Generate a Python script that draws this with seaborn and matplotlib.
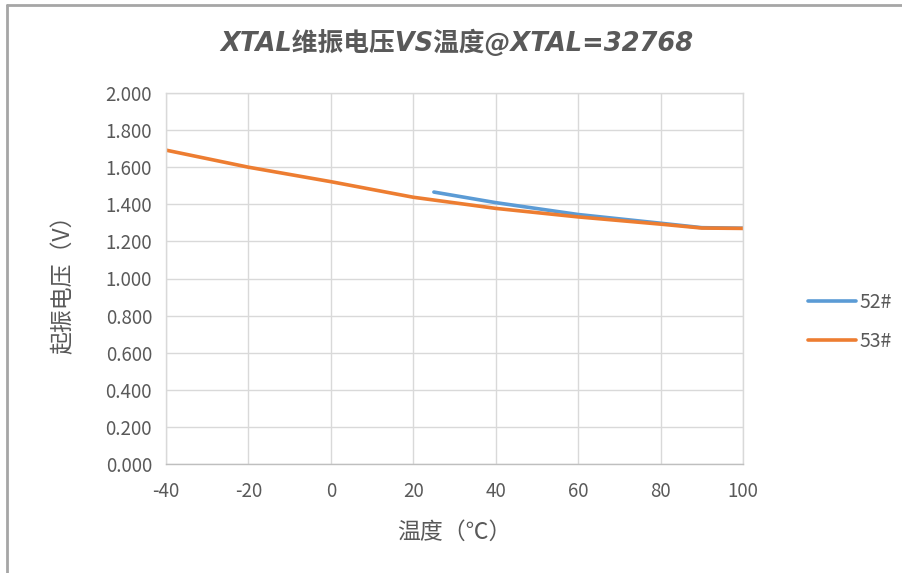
import matplotlib
matplotlib.use("Agg")
import matplotlib.pyplot as plt
import seaborn as sns
import pandas as pd
from matplotlib.lines import Line2D

# ---- data ----
temp_52 = [25, 40, 60, 80, 90, 100]
volt_52 = [1.466, 1.409, 1.345, 1.298, 1.274, 1.271]
temp_53 = [-40, -20, 0, 20, 40, 60, 80, 90, 100]
volt_53 = [1.692, 1.600, 1.522, 1.438, 1.378, 1.332, 1.293, 1.272, 1.270]
series_names = ["52#", "53#"]
series_colors = ["#5B9BD5", "#ED7D31"]
x_ticks = [-40, -20, 0, 20, 40, 60, 80, 100]
y_ticks = [0.0, 0.2, 0.4, 0.6, 0.8, 1.0, 1.2, 1.4, 1.6, 1.8, 2.0]
title = "XTAL维振电压VS温度@XTAL=32768"
x_label = "温度（℃）"
y_label = "起振电压（V）"

df = pd.concat([
    pd.DataFrame({"温度": temp_52, "电压": volt_52, "系列": series_names[0]}),
    pd.DataFrame({"温度": temp_53, "电压": volt_53, "系列": series_names[1]}),
], ignore_index=True)

sns.set_theme(style="white")
plt.rcParams["font.family"] = ["Noto Sans CJK SC", "DejaVu Sans"]
plt.rcParams["axes.unicode_minus"] = False

fig = plt.figure(figsize=(9.02, 5.73), dpi=100)
ax = fig.add_axes([166 / 902, 1 - 464 / 573, (743 - 166) / 902, (464 - 93) / 573])

sns.lineplot(data=df, x="温度", y="电压", hue="系列", palette=dict(zip(series_names, series_colors)),
             linewidth=2.6, ax=ax, legend=False, sort=True, estimator=None)

ax.set_xlim(-40, 100)
ax.set_ylim(0, 2.0)
ax.set_xticks(x_ticks)
ax.set_yticks(y_ticks)
ax.set_xticklabels([str(v) for v in x_ticks])
ax.set_yticklabels([f"{v:.3f}" for v in y_ticks])
ax.grid(True, color="#D9D9D9", linewidth=1.0)
ax.set_axisbelow(True)
for name, sp in ax.spines.items():
    sp.set_color("#D9D9D9")
    sp.set_linewidth(1.0)
ax.spines["bottom"].set_color("#BFBFBF")
ax.tick_params(axis="both", length=0, labelsize=13.5, colors="#595959")
ax.tick_params(axis="y", pad=10)
ax.tick_params(axis="x", pad=12)

ax.set_xlabel(x_label, fontsize=16.5, color="#595959", labelpad=14)
ax.set_ylabel(y_label, fontsize=16.5, color="#595959", labelpad=22)

fig.text(0.507, 1 - 43 / 573, title, ha="center", va="center", fontsize=18.5,
         fontweight="bold", fontstyle="italic", color="#595959",
         family=["DejaVu Sans", "Noto Sans CJK SC"])

handles = [Line2D([0], [0], color=c, lw=2.6) for c in series_colors]
leg = fig.legend(handles, series_names, loc="center left",
                 bbox_to_anchor=(790 / 902, 1 - 322 / 573), frameon=False,
                 fontsize=14, handlelength=2.5, labelspacing=0.9, handletextpad=0.15)
for t in leg.get_texts():
    t.set_color("#595959")

# chart-area border (top and left edges visible)
fig.add_artist(Line2D([7 / 902, 7 / 902], [0, 1 - 4.5 / 573], transform=fig.transFigure,
                      color="#A6A6A6", lw=2))
fig.add_artist(Line2D([7 / 902, 1], [1 - 4.5 / 573, 1 - 4.5 / 573], transform=fig.transFigure,
                      color="#A6A6A6", lw=2))

fig.savefig("out.png", dpi=100, facecolor="white")
